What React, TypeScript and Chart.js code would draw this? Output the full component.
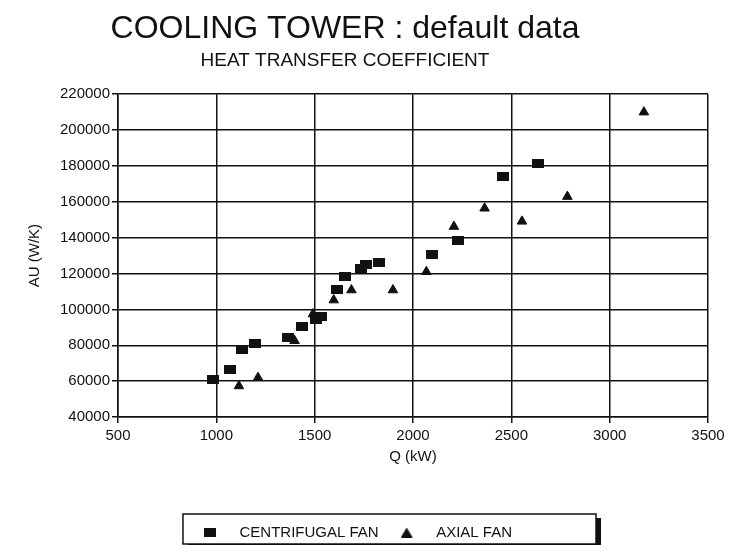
import React, { useEffect, useRef } from "react";
import { Chart, registerables } from "chart.js";

Chart.register(...registerables);

// ---- data ----
const centrifugalQ = [983, 1068, 1132, 1195, 1364, 1437, 1505, 1534, 1613, 1656, 1737, 1763, 1827, 2098, 2229, 2457, 2635];
const centrifugalAU = [61000, 66400, 77800, 81200, 84300, 90700, 94600, 95900, 111100, 118200, 122900, 124900, 126400, 130500, 138300, 174200, 181500];
const axialQ = [1115, 1212, 1398, 1491, 1597, 1687, 1898, 2068, 2208, 2364, 2554, 2785, 3174];
const axialAU = [57300, 61950, 82500, 97400, 105200, 110800, 110800, 121000, 146200, 156400, 149100, 162900, 210000];
const xTickValues = [500, 1000, 1500, 2000, 2500, 3000, 3500];
const yTickValues = [40000, 60000, 80000, 100000, 120000, 140000, 160000, 180000, 200000, 220000];
const seriesNames = ["CENTRIFUGAL FAN", "AXIAL FAN"];
const titleText = "COOLING TOWER : default data";
const subtitleText = "HEAT TRANSFER COEFFICIENT";
const xTitle = "Q (kW)";
const yTitle = "AU (W/K)";

const FONT = "'Liberation Sans', Arial, sans-serif";
const INK = "#111";

function makeSquare(w: number): HTMLCanvasElement {
  const c = document.createElement("canvas");
  c.width = w;
  c.height = 9;
  const ctx = c.getContext("2d")!;
  ctx.fillStyle = INK;
  ctx.fillRect(0, 0, 12, 9);
  return c;
}

function makeTriangle(w: number): HTMLCanvasElement {
  const c = document.createElement("canvas");
  c.width = w;
  c.height = 10;
  const ctx = c.getContext("2d")!;
  ctx.fillStyle = INK;
  ctx.beginPath();
  ctx.moveTo(6, 0);
  ctx.lineTo(12, 10);
  ctx.lineTo(0, 10);
  ctx.closePath();
  ctx.fill();
  return c;
}

const shiftTitlesPlugin = {
  id: "shiftTitles",
  afterLayout(chart: any) {
    for (const b of chart.boxes) {
      const t = b.options && b.options.text;
      if (t === titleText || t === subtitleText) {
        b.right = b.right - 26;
      }
    }
  },
};

const legendBoxPlugin = {
  id: "legendBox",
  afterDraw(chart: any) {
    const lg = chart.legend;
    if (!lg || !lg.legendHitBoxes || !lg.legendHitBoxes.length) return;
    const boxes = lg.legendHitBoxes;
    let l = Infinity, r = -Infinity, t = Infinity, b = -Infinity;
    for (const h of boxes) {
      l = Math.min(l, h.left);
      r = Math.max(r, h.left + h.width);
      t = Math.min(t, h.top);
      b = Math.max(b, h.top + h.height);
    }
    const x0 = l - 21, x1 = r + 84, y0 = t - 11;
    const y1 = Math.min(b + 11, chart.height - 9);
    const ctx = chart.ctx;
    ctx.save();
    ctx.fillStyle = INK;
    ctx.fillRect(x1, y0 + 4, 5, y1 - y0 + 3);
    ctx.fillRect(x0 + 5, y1, x1 - x0, 3);
    ctx.strokeStyle = INK;
    ctx.lineWidth = 1.5;
    ctx.strokeRect(x0, y0, x1 - x0, y1 - y0);
    ctx.restore();
  },
};

export default function App() {
  const ref = useRef<HTMLCanvasElement | null>(null);
  useEffect(() => {
    if (!ref.current) return;
    const square = makeSquare(12);
    const legendSquare = makeSquare(28);
    const legendTriangle = makeTriangle(28);
    const chart = new Chart(ref.current, {
      type: "scatter",
      data: {
        datasets: [
          {
            label: seriesNames[0],
            data: centrifugalQ.map((q, i) => ({ x: q, y: centrifugalAU[i] })),
            pointStyle: square as any,
            backgroundColor: INK,
            borderColor: INK,
            pointRadius: 6,
          },
          {
            label: seriesNames[1],
            data: axialQ.map((q, i) => ({ x: q, y: axialAU[i] })),
            pointStyle: "triangle",
            backgroundColor: INK,
            borderColor: INK,
            pointRadius: 5.5,
          },
        ],
      },
      options: {
        animation: false,
        responsive: true,
        maintainAspectRatio: false,
        layout: { padding: { left: 0, right: 17, top: 0, bottom: 3 } },
        plugins: {
          title: {
            display: true,
            text: titleText,
            color: INK,
            font: { family: FONT, size: 32, weight: "normal" },
            padding: { top: 2, bottom: 0 },
          },
          subtitle: {
            display: true,
            text: subtitleText,
            color: INK,
            font: { family: FONT, size: 19, weight: "normal" },
            padding: { top: 1, bottom: 22 },
          },
          legend: {
            display: true,
            position: "bottom",
            labels: {
              usePointStyle: true,
              pointStyleWidth: 28,
              color: INK,
              font: { family: FONT, size: 15 },
              padding: 22,
              boxHeight: 9,
              generateLabels: (chart: any) => {
                const base = (Chart as any).defaults.plugins.legend.labels.generateLabels(chart);
                return base.map((it: any, i: number) => ({
                  ...it,
                  pointStyle: i === 0 ? legendSquare : legendTriangle,
                }));
              },
            },
          },
          tooltip: { enabled: false },
        },
        scales: {
          x: {
            type: "linear",
            min: xTickValues[0],
            max: xTickValues[xTickValues.length - 1],
            afterBuildTicks: (s: any) => {
              s.ticks = xTickValues.map((v) => ({ value: v }));
            },
            afterFit: (s: any) => {
              s.height = 86;
              s.paddingLeft = 0;
              s.paddingRight = 0;
            },
            ticks: {
              color: INK,
              font: { family: FONT, size: 15 },
              padding: 4,
              callback: (v: any) => String(v),
            },
            grid: { color: INK, lineWidth: 1.5, tickLength: 6, tickColor: INK },
            border: { color: INK, width: 1.5 },
            title: {
              display: true,
              text: xTitle,
              color: INK,
              font: { family: FONT, size: 15 },
              padding: { top: 0, bottom: 37 },
            },
          },
          y: {
            type: "linear",
            min: yTickValues[0],
            max: yTickValues[yTickValues.length - 1],
            afterBuildTicks: (s: any) => {
              s.ticks = yTickValues.map((v) => ({ value: v }));
            },
            afterFit: (s: any) => {
              s.width = 110;
            },
            ticks: {
              color: INK,
              font: { family: FONT, size: 15 },
              padding: 2,
              callback: (v: any) => String(v),
            },
            grid: { color: INK, lineWidth: 1.5, tickLength: 6, tickColor: INK },
            border: { color: INK, width: 1.5 },
            title: {
              display: true,
              text: yTitle,
              color: INK,
              font: { family: FONT, size: 15 },
              padding: { top: 18, bottom: 0 },
            },
          },
        },
      },
      plugins: [shiftTitlesPlugin, legendBoxPlugin],
    });
    return () => chart.destroy();
  }, []);
  return (
    <div style={{ width: 717, height: 545, marginBottom: -8, position: "relative", background: "#fff" }}>
      <canvas ref={ref} />
    </div>
  );
}
